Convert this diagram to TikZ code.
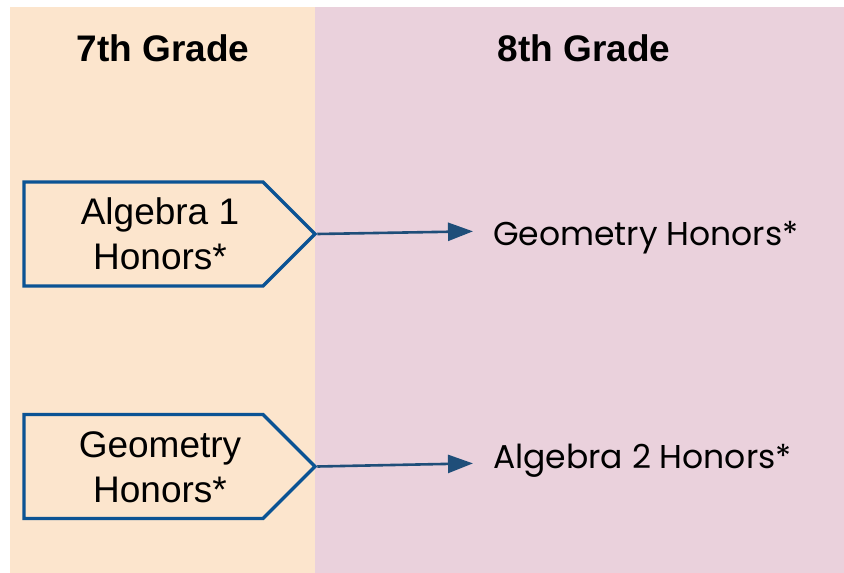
\documentclass[tikz,border=0pt]{standalone}
\usepackage{fontspec}
\setmainfont{Liberation Sans}
\newfontfamily\labelfont{Poppins}
\usetikzlibrary{shapes.symbols, arrows.meta, positioning}
\definecolor{peach}{RGB}{252,229,205}
\definecolor{mauve}{RGB}{234,209,220}
\definecolor{boxblue}{RGB}{11,83,148}
\definecolor{arrblue}{RGB}{31,78,121}
\newcommand{\coursetext}[2]{\hspace*{33pt}\raisebox{-4pt}[\height][\depth]{\begin{tabular}{@{}c@{}}#1\\#2\end{tabular}}}
\tikzset{
  course/.style={signal, signal to=east, signal pointer angle=90,
    draw=boxblue, line width=3.2pt, inner sep=0pt,
    minimum width=291pt, minimum height=104pt, font=\fontsize{37}{45}\selectfont},
  target/.style={anchor=base west, inner sep=0pt, text height=28pt, text depth=0pt,
    font=\labelfont\fontsize{33}{40}\selectfont},
  grade/.style={font=\fontsize{37}{44}\selectfont\bfseries},
  arrow/.style={-{Triangle[length=25pt,width=18pt]}, line width=2.6pt,
    color=arrblue, shorten >=20pt}
}

\begin{document}
\begin{tikzpicture}[x=1pt, y=-1pt]
  \useasboundingbox (0,0) rectangle (844,573);
  \fill[peach] (10,7) rectangle (315,573);
  \fill[mauve] (315,7) rectangle (844,573);

  % column headings
  \node[grade] (g7) at (163,48) {7th Grade};
  \node[grade] (g8) at (584,48) {8th Grade};

  % 7th grade courses
  \node[course] (alg1) at (143.5,234) {\coursetext{Algebra 1}{Honors*}};
  \node[course] (geo7) at (143.5,466.5) {\coursetext{Geometry}{Honors*}};

  % 8th grade courses
  \node[target] (geo8) at (493,245) {Geometry Honors*};
  \node[target] (alg2) at (493,468) {Algebra 2 Honors*};

  \draw[arrow] (alg1.east) -- (geo8.west);
  \draw[arrow] (geo7.east) -- ([yshift=-9pt]alg2.west);
\end{tikzpicture}
\end{document}
